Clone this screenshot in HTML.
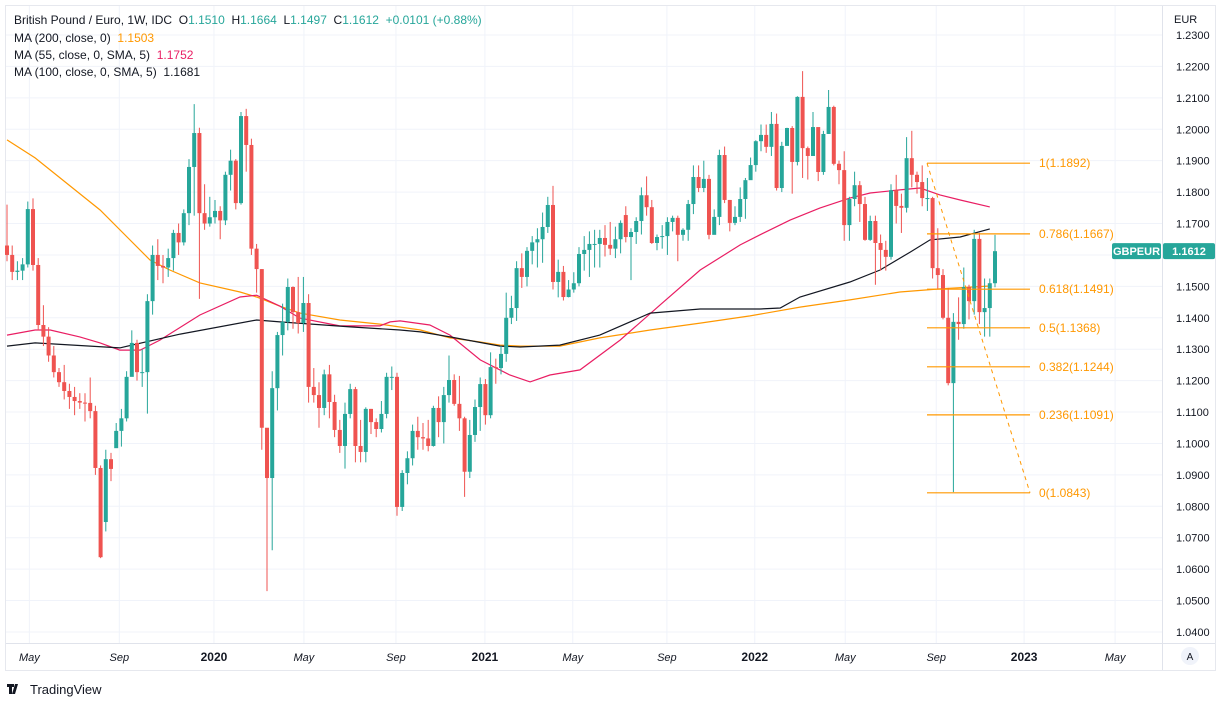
<!DOCTYPE html>
<html><head><meta charset="utf-8"><style>
html,body{margin:0;padding:0;background:#fff;width:1221px;height:701px;overflow:hidden}
svg{display:block;font-family:"Liberation Sans",sans-serif}
</style></head><body>
<svg id="chart" width="1221" height="701" viewBox="0 0 1221 701">
<rect x="0" y="0" width="1221" height="701" fill="#fff"/>
<rect x="5.5" y="5.5" width="1210" height="665" fill="none" stroke="#e6e8ee" stroke-width="1"/>
<g id="grid"></g>
<g id="ma"></g>
<g id="candles"></g>
<g id="fib"></g>
<g id="axes"></g>
<g font-size="12" fill="#131722">
<text x="14" y="24">British Pound / Euro, 1W, IDC&#160;&#160;O<tspan fill="#26a69a">1.1510</tspan>&#160;&#160;H<tspan fill="#26a69a">1.1664</tspan>&#160;&#160;L<tspan fill="#26a69a">1.1497</tspan>&#160;&#160;C<tspan fill="#26a69a">1.1612&#160;&#160;+0.0101 (+0.88%)</tspan></text>
<text x="14" y="42">MA (200, close, 0)&#160;&#160;<tspan fill="#ff9800">1.1503</tspan></text>
<text x="14" y="59">MA (55, close, 0, SMA, 5)&#160;&#160;<tspan fill="#e91e63">1.1752</tspan></text>
<text x="14" y="76">MA (100, close, 0, SMA, 5)&#160;&#160;1.1681</text>
</g>
<g>
<path d="M7 684h7v3h-2v7h-3v-7h-2z M15 684h3l-3 10h-3z" fill="#131722"/>
<text x="30" y="694" font-size="13" fill="#131722">TradingView</text>
</g>
</svg>
<script>
const closes=[1.160,1.1546,1.155,1.157,1.1746,1.1568,1.1377,1.134,1.128,1.1227,
1.1195,1.1167,1.1148,1.1135,1.113,1.1129,1.1103,1.0922,1.0638,1.095,
1.0919,1.104,1.108,1.1212,1.132,1.1227,1.1227,1.1453,1.16,1.1565,
1.156,1.159,1.167,1.164,1.1733,1.188,1.1988,1.1733,1.170,1.172,
1.174,1.171,1.1855,1.19,1.1765,1.2042,1.195,1.162,1.1555,1.105,
1.089,1.1176,1.1345,1.1387,1.1498,1.1418,1.1383,1.1447,1.118,1.1154,
1.1113,1.122,1.1132,1.1043,1.0992,1.1094,1.1173,1.0992,1.0973,1.111,
1.1068,1.1046,1.1094,1.1212,1.1212,1.0798,1.0906,1.0953,1.104,1.102,
1.1016,1.0992,1.1113,1.1068,1.1154,1.1202,1.1126,1.108,1.091,1.1027,
1.1116,1.1189,1.109,1.1243,1.124,1.1285,1.14,1.1431,1.1558,1.153,
1.1613,1.164,1.165,1.1689,1.1759,1.1514,1.1546,1.1466,1.149,1.151,
1.1603,1.1616,1.1635,1.1635,1.1654,1.1632,1.162,1.165,1.1702,1.1657,
1.1673,1.1708,1.179,1.1752,1.1638,1.1657,1.166,1.1705,1.1718,1.1664,
1.168,1.1762,1.1848,1.1813,1.1842,1.1664,1.1721,1.1918,1.1775,1.1702,
1.1721,1.1778,1.1838,1.1886,1.1962,1.1982,1.1944,1.2017,1.1813,1.1947,
1.2004,1.1896,1.2103,1.194,1.1915,1.2007,1.1864,1.1985,1.2071,1.189,
1.187,1.1695,1.1778,1.1822,1.1762,1.1648,1.1708,1.1638,1.1616,1.1594,
1.1806,1.1756,1.175,1.1908,1.1855,1.1832,1.1781,1.1781,1.1558,1.1536,
1.14,1.1192,1.1387,1.138,1.1498,1.1453,1.1651,1.1418,1.1431,1.151,1.1612];
const highs=[1.176,1.163,1.158,1.159,1.177,1.178,1.159,1.144,1.137,1.131,
1.124,1.125,1.119,1.118,1.116,1.116,1.121,1.112,1.093,1.098,
1.097,1.1065,1.111,1.123,1.136,1.133,1.130,1.1475,1.163,1.165,
1.160,1.162,1.168,1.170,1.1745,1.1905,1.208,1.2005,1.1825,1.1785,
1.1775,1.1755,1.1865,1.1935,1.1905,1.2055,1.2065,1.197,1.1635,1.1555,
1.1045,1.123,1.1355,1.1445,1.1525,1.150,1.153,1.153,1.1475,1.124,
1.1195,1.1235,1.125,1.1155,1.1075,1.113,1.119,1.118,1.1075,1.1115,
1.111,1.108,1.1135,1.1225,1.1245,1.1225,1.0915,1.0975,1.106,1.1085,
1.1065,1.1075,1.112,1.115,1.118,1.128,1.122,1.1215,1.1085,1.1075,
1.114,1.121,1.1205,1.129,1.127,1.131,1.148,1.147,1.158,1.1605,
1.1625,1.166,1.1685,1.1735,1.1785,1.182,1.1585,1.1565,1.152,1.1545,
1.1625,1.166,1.1675,1.168,1.168,1.1695,1.1705,1.169,1.171,1.1755,
1.1685,1.172,1.1815,1.185,1.1775,1.1665,1.1695,1.172,1.1725,1.1725,
1.1685,1.1775,1.1885,1.1885,1.190,1.1855,1.1745,1.1935,1.1945,1.1775,
1.1755,1.1815,1.1845,1.191,1.1965,1.2015,1.2015,1.2055,1.205,1.196,
1.2005,1.201,1.2105,1.2185,1.1945,1.2055,1.2005,1.1995,1.2125,1.2075,
1.190,1.193,1.1785,1.1865,1.1835,1.1785,1.1725,1.1725,1.1665,1.1645,
1.1825,1.1855,1.1795,1.1975,1.1995,1.1865,1.1885,1.1845,1.1785,1.1685,
1.1555,1.1495,1.1415,1.1465,1.156,1.1505,1.168,1.167,1.1525,1.1525,1.1664];
const lows=[1.158,1.152,1.152,1.152,1.156,1.155,1.136,1.131,1.126,1.121,
1.118,1.114,1.111,1.109,1.111,1.107,1.108,1.090,1.0635,1.072,
1.088,1.100,1.099,1.107,1.122,1.120,1.118,1.1095,1.141,1.152,
1.151,1.153,1.155,1.160,1.163,1.1695,1.1725,1.146,1.168,1.169,
1.170,1.165,1.1695,1.1805,1.1745,1.176,1.1865,1.160,1.148,1.098,
1.053,1.066,1.1105,1.128,1.136,1.1365,1.135,1.1355,1.113,1.113,
1.105,1.109,1.108,1.102,1.097,1.092,1.108,1.094,1.094,1.094,
1.103,1.102,1.1035,1.108,1.117,1.077,1.0785,1.087,1.093,1.098,
1.098,1.0975,1.099,1.102,1.100,1.113,1.112,1.104,1.083,1.089,
1.1005,1.104,1.106,1.108,1.119,1.122,1.126,1.138,1.139,1.1495,
1.150,1.157,1.156,1.1575,1.167,1.149,1.1465,1.1455,1.1465,1.148,
1.150,1.155,1.153,1.156,1.156,1.1595,1.160,1.159,1.1605,1.164,
1.152,1.1635,1.1665,1.1725,1.1635,1.1615,1.162,1.160,1.1675,1.158,
1.1645,1.1645,1.173,1.180,1.180,1.165,1.169,1.1695,1.1765,1.1675,
1.1695,1.1705,1.1715,1.184,1.1865,1.193,1.1925,1.1915,1.1805,1.180,
1.1955,1.1795,1.1885,1.1845,1.184,1.1915,1.1835,1.1855,1.1985,1.1885,
1.1825,1.1645,1.1645,1.1755,1.1705,1.1645,1.1645,1.1505,1.155,1.155,
1.1585,1.170,1.167,1.1735,1.1815,1.1795,1.1755,1.174,1.1525,1.149,
1.1395,1.1185,1.0845,1.133,1.1365,1.1395,1.141,1.138,1.134,1.134,1.1497];
// weekly opens: previous close, except gap weeks listed below
const firstOpen=1.163;
const gapOpenIdx=[19,21,119];
const gapOpenVal=[1.075,1.0985,1.1727];
const ma100Idx=[0,5.4,21.7,33.3,48,52.5,66,75.6,79.5,85.2,94.8,98.7,106.3,114,123.7,133.3,144.8,148.7,152.5,162.1,167.9,173.7,177.5,183.3,189];
const ma100Val=[1.131,1.132,1.1304,1.1348,1.1393,1.1387,1.1371,1.1361,1.1355,1.1339,1.131,1.1307,1.1313,1.1345,1.1415,1.1428,1.1428,1.1431,1.1466,1.1514,1.1552,1.1609,1.1648,1.1657,1.1683];
const ma200Idx=[0,5.4,17.9,27.5,31.3,37.1,44.8,48,52.5,56.3,64,71.7,79.5,85.2,91,94.8,98.7,106.3,114,123.7,133.3,142.9,152.5,162.1,171.7,179.4,189];
const ma200Val=[1.1966,1.1909,1.1743,1.1584,1.1552,1.1511,1.1482,1.1466,1.1437,1.1415,1.1393,1.138,1.1361,1.1336,1.1323,1.1313,1.131,1.131,1.1336,1.1361,1.1383,1.1406,1.1434,1.1457,1.1482,1.1492,1.1501];
const ma55Idx=[0,5.4,8.3,14,17.9,21.7,25.6,29.4,37.1,44.8,48,52.5,56.3,64,71.7,73.7,75.6,81.3,85.2,91,96.7,100.6,104.4,110.2,117.9,125.6,133.3,141,144.8,150.6,156.3,162.1,166,171.7,175.6,179.4,183.3,189];
const ma55Val=[1.1345,1.1361,1.1361,1.1339,1.132,1.1297,1.1297,1.1329,1.1409,1.1466,1.1472,1.1437,1.1399,1.1374,1.1374,1.1387,1.139,1.1377,1.1345,1.1266,1.1218,1.1196,1.1218,1.1234,1.1329,1.1441,1.1552,1.1632,1.1664,1.1711,1.1749,1.1781,1.1797,1.1807,1.1813,1.1791,1.1775,1.1753];
const fibRatios=["1","0.786","0.618","0.5","0.382","0.236","0"];
const fibLevels=[1.1892,1.1667,1.1491,1.1368,1.1244,1.1091,1.0843];
const yTicks=[1.23,1.22,1.21,1.20,1.19,1.18,1.17,1.16,1.15,1.14,1.13,1.12,1.11,1.10,1.09,1.08,1.07,1.06,1.05,1.04];
const monthLabels=["May","Sep","2020","May","Sep","2021","May","Sep","2022","May","Sep","2023","May"];
const monthWeeks=[4.3,21.6,39.8,57.1,74.8,91.9,108.8,126.9,143.8,161.2,178.7,195.6,213.1];

const NS="http://www.w3.org/2000/svg";
const X0=7,DX=5.2,PLOT_R=1162;
function xs(i){return X0+i*DX;}
function ys(v){return 35+(1.23-v)*3142;}
function mk(tag,attrs,parent){const e=document.createElementNS(NS,tag);for(const k in attrs)e.setAttribute(k,attrs[k]);parent.appendChild(e);return e;}
const opens=closes.map((c,i)=>i===0?firstOpen:closes[i-1]);
gapOpenIdx.forEach((i,k)=>{opens[i]=gapOpenVal[k];});
const grid=document.getElementById('grid'),axes=document.getElementById('axes');
yTicks.forEach(v=>{
 const l=mk('line',{x1:6,x2:PLOT_R,y1:ys(v),y2:ys(v),stroke:'#f0f3fa','stroke-width':1},grid);
 
 
 const t=mk('text',{x:1176,y:ys(v)+4,'font-size':11,fill:'#131722'},axes);
 t.textContent=v.toFixed(4);
 
 
});
monthWeeks.forEach((w,k)=>{
 const x=xs(w);
 const l=mk('line',{x1:x,x2:x,y1:6,y2:643,stroke:'#f0f3fa','stroke-width':1},grid);
 
 
 const yr=/^\d/.test(monthLabels[k]);
 const t=mk('text',{x:x,y:661,'font-size':yr?12:11,'text-anchor':'middle',fill:'#131722','font-weight':yr?'bold':'normal','font-style':yr?'normal':'italic'},axes);
 t.textContent=monthLabels[k];
 
 
});
mk('line',{x1:PLOT_R+0.5,x2:PLOT_R+0.5,y1:6,y2:670,stroke:'#e0e3eb'},axes);
mk('line',{x1:6,x2:1215,y1:643.5,y2:643.5,stroke:'#e0e3eb'},axes);
let eur=mk('text',{x:1174,y:23,'font-size':11,fill:'#131722'},axes);eur.textContent='EUR';


let ac=mk('circle',{cx:1190,cy:656,r:9,fill:'#f0f3fa'},axes);


let at=mk('text',{x:1190,y:660,'font-size':10,'text-anchor':'middle',fill:'#131722'},axes);at.textContent='A';

const maG=document.getElementById('ma');
function drawMA(idx,val,color,name){
 const p=idx.map((i,k)=>xs(i).toFixed(1)+','+ys(val[k]).toFixed(1)).join(' ');
 const pl=mk('polyline',{points:p,fill:'none',stroke:color,'stroke-width':1.2},maG);
 
 
}
drawMA(ma200Idx,ma200Val,'#ff9800','ma200-line');
drawMA(ma55Idx,ma55Val,'#e91e63','ma55-line');
drawMA(ma100Idx,ma100Val,'#131722','ma100-line');

const cg=document.getElementById('candles');
closes.forEach((c,i)=>{
 const o=opens[i],x=xs(i),up=c>=o,col=up?'#26a69a':'#ef5350';
 const w=mk('line',{x1:x,x2:x,y1:ys(highs[i]),y2:ys(lows[i]),stroke:col,'stroke-width':1},cg);
 
 
 const top=ys(Math.max(o,c)),bot=ys(Math.min(o,c));
 const b=mk('rect',{x:x-2,y:top,width:4,height:Math.max(1,bot-top),fill:col},cg);
 
 
});

const fg=document.getElementById('fib');
const FX1=927,FX2=1030;
fibLevels.forEach((v,k)=>{
 const l=mk('line',{x1:FX1,x2:FX2,y1:ys(v),y2:ys(v),stroke:'#ff9800','stroke-width':1.2},fg);
 
 
 const t=mk('text',{x:1039,y:ys(v)+4,'font-size':12,fill:'#ff9800'},fg);
 t.textContent=fibRatios[k]+'('+v.toFixed(4)+')';
 
 
});
const tl=mk('line',{x1:FX1,y1:ys(fibLevels[0]),x2:FX2,y2:ys(fibLevels[fibLevels.length-1]),stroke:'#ff9800','stroke-width':1,'stroke-dasharray':'4,4'},fg);



const last=closes[closes.length-1],ly=ys(last);
const tag=mk('rect',{x:1112,y:ly-8,width:49,height:16,rx:2,fill:'#26a69a'},axes);


const tt=mk('text',{x:1136.5,y:ly+4,'font-size':11,'font-weight':'bold','text-anchor':'middle',fill:'#fff'},axes);tt.textContent='GBPEUR';
const pt=mk('rect',{x:1163,y:ly-8,width:52,height:16,rx:2,fill:'#26a69a'},axes);


const ptt=mk('text',{x:1189,y:ly+4,'font-size':11,'font-weight':'bold','text-anchor':'middle',fill:'#fff'},axes);ptt.textContent=last.toFixed(4);
</script>
</body></html>
